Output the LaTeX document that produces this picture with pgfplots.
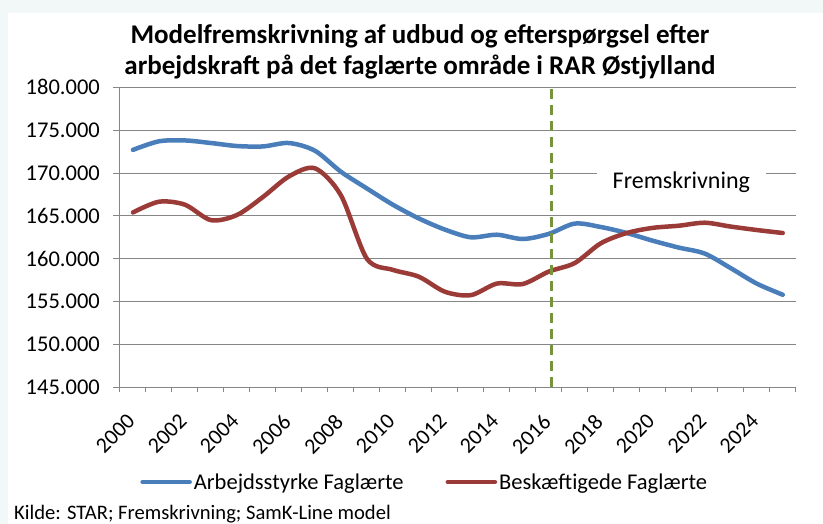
\documentclass[border=0pt]{standalone}
\usepackage{pgfplots}
\pgfplotsset{compat=1.18}
\usepackage{fontspec}
\setmainfont{Carlito}
\definecolor{blueS}{HTML}{4A7EBB}
\definecolor{redS}{HTML}{9B3B38}
\definecolor{greenS}{HTML}{77933C}
\definecolor{gridc}{HTML}{868686}
\definecolor{bgc}{HTML}{F2F8F8}
\newcommand{\tfont}{\fontsize{22.5}{27}\selectfont}
\newcommand{\kfont}{\fontsize{22.5}{27}\selectfont}
\newcommand{\xfont}{\fontsize{22}{26}\selectfont}
\begin{document}
\begin{tikzpicture}[x=1pt,y=1pt]
\useasboundingbox (0,0) rectangle (823,524);
\fill[bgc] (0,0) rectangle (823,524);
\fill[white] (8,0) rectangle (823,511);
\node[anchor=base, font=\fontsize{27}{32}\selectfont\bfseries] at (420,480) {Modelfremskrivning af udbud og efterspørgsel efter};
\node[anchor=base, font=\fontsize{27}{32}\selectfont\bfseries] at (420,449) {arbejdskraft på det faglærte område i RAR Østjylland};
\node[anchor=base west, font=\fontsize{20.6}{24}\selectfont, inner sep=0pt] at (14,4) {Kilde: STAR; Fremskrivning; SamK-Line model};
\begin{axis}[
  at={(120pt,136.7pt)}, anchor=south west,
  scale only axis, width=675.7pt, height=300pt,
  xmin=1999.5, xmax=2025.5, ymin=145, ymax=180,
  axis lines*=left,
  axis line style={draw=gridc, line width=1pt},
  ymajorgrids, grid style={gridc, line width=1pt},
  ytick={145,150,155,160,165,170,175,180},
  yticklabels={145.000,150.000,155.000,160.000,165.000,170.000,175.000,180.000},
  xtick={2000,2002,2004,2006,2008,2010,2012,2014,2016,2018,2020,2022,2024},
  xticklabels={2000,2002,2004,2006,2008,2010,2012,2014,2016,2018,2020,2022,2024},
  minor xtick={1999.5,2000.5,2001.5,2002.5,2003.5,2004.5,2005.5,2006.5,2007.5,2008.5,2009.5,2010.5,2011.5,2012.5,2013.5,2014.5,2015.5,2016.5,2017.5,2018.5,2019.5,2020.5,2021.5,2022.5,2023.5,2024.5,2025.5},
  tick align=outside, major tick length=7pt, minor tick length=5pt,
  tick style={gridc, line width=1pt},
  major x tick style={draw=none},
  x tick label style={rotate=45, anchor=north east, font=\xfont, inner sep=1pt, xshift=-17pt, yshift=-7pt},
  y tick label style={font=\kfont, inner sep=2pt, xshift=-11pt},
  clip=false,
  legend style={at={(rel axis cs:0.451,-0.316)}, anchor=center, draw=none, fill=none,
    legend columns=2, font=\tfont, /tikz/every even column/.append style={column sep=40pt}},
  legend image code/.code={\draw[#1] (0pt,0pt) -- (47pt,0pt);},
]
\addplot[blueS, line width=4.5pt, line cap=round, smooth, tension=0.5] coordinates {
(2000,172.7) (2001,173.7) (2002,173.8) (2003,173.5) (2004,173.15) (2005,173.1)
(2006,173.5) (2007,172.6) (2008,170.15) (2009,168.2) (2010,166.3) (2011,164.7)
(2012,163.4) (2013,162.5) (2014,162.8) (2015,162.3) (2016,162.9) (2017,164.1)
(2018,163.7) (2019,163.0) (2020,162.1) (2021,161.3) (2022,160.6) (2023,158.9)
(2024,157.1) (2025,155.8)};
\addlegendentry{Arbejdsstyrke Faglærte}
\addplot[redS, line width=4.5pt, line cap=round, smooth, tension=0.5] coordinates {
(2000,165.4) (2001,166.65) (2002,166.3) (2003,164.5) (2004,165.1) (2005,167.2)
(2006,169.6) (2007,170.55) (2008,167.4) (2009,160.0) (2010,158.7) (2011,157.9)
(2012,156.15) (2013,155.75) (2014,157.1) (2015,157.05) (2016,158.5) (2017,159.5)
(2018,161.8) (2019,163.0) (2020,163.6) (2021,163.85) (2022,164.2) (2023,163.75)
(2024,163.35) (2025,163.0)};
\addlegendentry{Beskæftigede Faglærte}
\draw[greenS, line width=3pt, dash pattern=on 10pt off 6pt] (axis cs:2016.1,145) -- (axis cs:2016.1,180.4);
\node[fill=white, inner xsep=16pt, inner ysep=4pt, font=\fontsize{24}{28}\selectfont] at (axis cs:2021.1,168.95) {Fremskrivning};
\end{axis}
\end{tikzpicture}
\end{document}
